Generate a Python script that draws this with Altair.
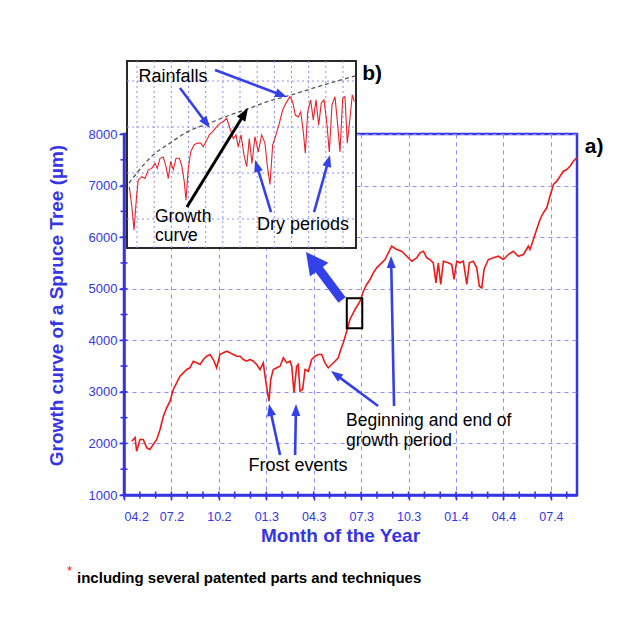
import json
import math
import altair as alt
import pandas as pd

# ---------------- data ----------------
# main series: month index (0 = 04.2) and growth in micrometres
months = [0.49, 0.70, 0.80, 1.01, 1.22, 1.44, 1.64, 1.85, 2.07, 2.28,
          2.49, 2.70, 2.91, 3.12, 3.33, 3.54, 3.75, 3.97, 4.17, 4.38,
          4.60, 4.81, 5.02, 5.23, 5.44, 5.65, 5.86, 6.07, 6.28, 6.50,
          6.70, 6.91, 7.13, 7.34, 7.55, 7.76, 7.97, 8.18, 8.39, 8.60,
          8.81, 8.92, 9.03, 9.17, 9.28, 9.44, 9.66, 9.87, 10.08, 10.29,
          10.50, 10.61, 10.75, 10.92, 11.02, 11.13, 11.30, 11.45, 11.66, 11.87,
          12.08, 12.29, 12.50, 12.71, 12.92, 13.14, 13.35, 13.55, 13.71, 13.87,
          14.09, 14.29, 14.61, 14.93, 15.14, 15.35, 15.56, 15.77, 15.98, 16.30,
          16.51, 16.72, 16.93, 17.25, 17.56, 17.88, 18.20, 18.51, 18.72, 18.94,
          19.15, 19.35, 19.56, 19.73, 19.88, 20.03, 20.20, 20.51, 20.73, 20.87,
          21.04, 21.25, 21.46, 21.68, 21.84, 22.09, 22.31, 22.47, 22.63, 22.77,
          23.04, 23.36, 23.67, 23.99, 24.31, 24.62, 24.94, 25.26, 25.57, 25.68,
          25.89, 26.10, 26.31, 26.52, 26.74, 26.94, 27.16, 27.37, 27.58, 27.79,
          28.00, 28.21, 28.42, 28.64]
growth = [2043, 2115, 1849, 2076, 2076, 1915, 1882, 1979, 2076, 2270,
          2528, 2691, 2819, 3046, 3176, 3304, 3369, 3433, 3466, 3594,
          3563, 3530, 3627, 3691, 3724, 3627, 3466, 3724, 3757, 3788,
          3757, 3724, 3691, 3691, 3627, 3594, 3627, 3594, 3530, 3433,
          3563, 3304, 3079, 2819, 3240, 3433, 3466, 3497, 3660, 3563,
          3594, 3497, 2987, 3497, 3530, 3013, 3046, 3433, 3400, 3627,
          3691, 3724, 3724, 3563, 3466, 3530, 3594, 3660, 3821, 3951,
          4180, 4403, 4597, 4758, 4952, 5082, 5179, 5308, 5405, 5502,
          5566, 5696, 5824, 5760, 5727, 5630, 5533, 5599, 5696, 5727,
          5599, 5566, 5502, 5115, 5502, 5082, 5533, 5502, 5469, 5179,
          5533, 5502, 5533, 5082, 5502, 5533, 5405, 5049, 5018, 5372,
          5566, 5599, 5630, 5566, 5663, 5727, 5630, 5663, 5824, 5760,
          5954, 6148, 6342, 6472, 6569, 6794, 7021, 7085, 7182, 7279,
          7311, 7375, 7472, 7538]

tick_months = [0, 3, 6, 9, 12, 15, 18, 21, 24, 27]
tick_labels = ["04.2", "07.2", "10.2", "01.3", "04.3", "07.3", "10.3", "01.4", "04.4", "07.4"]
y_ticks = [1000, 2000, 3000, 4000, 5000, 6000, 7000, 8000]
minor_months = list(range(0, 29))
minor_y = list(range(1000, 8001, 500))

# inset b): zoomed detail (days, micrometres)
in_days = [-2.24, -1.54, -0.87, -0.09, 0.38, 1.37, 2.33, 3.29, 4.28, 5.24,
           5.91, 6.70, 7.66, 8.45, 9.11, 9.81, 10.57, 11.36, 12.32, 13.02,
           13.77, 14.27, 14.94, 15.64, 16.60, 17.56, 18.55, 19.31, 20.09, 21.05,
           22.04, 23.21, 24.17, 25.13, 26.12, 28.04, 28.83, 29.50, 30.29, 31.16,
           31.95, 32.70, 33.49, 34.36, 35.32, 36.31, 37.27, 37.94, 38.73, 39.52,
           40.48, 41.44, 42.43, 43.39, 44.55, 45.34, 46.10, 46.97, 47.67, 48.43,
           49.01, 49.71, 50.58, 51.34, 52.13, 52.91, 53.67, 54.46, 55.24, 56.00,
           56.79, 57.66, 58.45, 59.11, 59.90, 60.57, 61.24, 62.03, 62.70, 63.28]
in_vals = [4470, 4430, 4376, 4452, 4485, 4492, 4488, 4507, 4510, 4521,
           4510, 4532, 4535, 4514, 4488, 4525, 4507, 4532, 4532, 4517,
           4481, 4441, 4510, 4546, 4561, 4565, 4565, 4557, 4568, 4583,
           4590, 4601, 4608, 4612, 4619, 4575, 4583, 4557, 4583, 4539,
           4514, 4575, 4521, 4579, 4546, 4583, 4565, 4517, 4475, 4561,
           4583, 4608, 4637, 4652, 4666, 4655, 4626, 4622, 4633, 4590,
           4543, 4633, 4659, 4615, 4659, 4604, 4652, 4659, 4612, 4546,
           4648, 4666, 4604, 4546, 4662, 4666, 4565, 4619, 4670, 4655]
gc_days = [-2.33, 4.66, 9.61, 14.56, 21.26, 27.08, 32.91, 38.73, 43.68, 53.29, 63.48]
gc_vals = [4478, 4539, 4565, 4589, 4609, 4626, 4641, 4657, 4667, 4689, 4711]
in_x_grid = [0, 5, 10, 15, 20, 25, 30, 35, 40, 45, 50, 55, 60]
in_y_grid = [4400, 4500, 4600, 4700]

# ---------------- layout / style ----------------
W, H = 453, 361
X_DOM = [0, 28.65]
Y_DOM = [1000, 8000]
XI_DOM = [-2.91, 63.78]
YI_DOM = [4337, 4743.5]
XI_RANGE = [3, 232]
YI_RANGE = [114, -73]

BLUE = "#3535e3"
ARROW = "#3441e8"
GRID = "#8e8ef0"
RED = "#ee1a1a"
FONT = "Liberation Sans"

xs = alt.Scale(domain=X_DOM, nice=False, zero=False)
ys = alt.Scale(domain=Y_DOM, nice=False, zero=False)
xis = alt.Scale(domain=XI_DOM, range=XI_RANGE, nice=False, zero=False)
yis = alt.Scale(domain=YI_DOM, range=YI_RANGE, nice=False, zero=False)

label_expr = json.dumps(tick_labels) + "[round(datum.value / 3)]"

main_line = alt.Chart(pd.DataFrame({"month": months, "growth": growth})).mark_line(
    color=RED, strokeWidth=1.6
).encode(
    x=alt.X("month:Q", scale=xs, axis=alt.Axis(
        values=tick_months, labelExpr=label_expr, title="Month of the Year",
        grid=True, gridDash=[4, 4], gridColor=GRID, gridWidth=1,
        tickSize=5, tickColor=BLUE, tickWidth=1.5,
        domainColor=BLUE, domainWidth=2.5,
        labelColor=BLUE, labelFont=FONT, labelFontSize=12.5, labelPadding=10,
        titleColor=BLUE, titleFont=FONT, titleFontSize=19, titleFontWeight="bold",
        titleX=216, titleY=31)),
    y=alt.Y("growth:Q", scale=ys, axis=alt.Axis(
        values=y_ticks, format="d", title="Growth curve of a Spruce Tree (µm)",
        grid=True, gridDash=[4, 4], gridColor=GRID, gridWidth=1,
        tickSize=5, tickColor=BLUE, tickWidth=1.5,
        domainColor=BLUE, domainWidth=2.5,
        labelColor=BLUE, labelFont=FONT, labelFontSize=13, labelPadding=2,
        titleColor=BLUE, titleFont=FONT, titleFontSize=19, titleFontWeight="bold",
        titleX=-58, titleY=171)),
)

# minor tick crosses on both axes (short rules centred on the axis lines)
ticks_x = alt.Chart(pd.DataFrame({"m": minor_months})).mark_rule(
    color=BLUE, strokeWidth=1.6
).encode(x=alt.X("m:Q", scale=xs, axis=None),
         y=alt.value(H - 3.5), y2=alt.value(H + 3.5))

ticks_y = alt.Chart(pd.DataFrame({"v": minor_y})).mark_rule(
    color=BLUE, strokeWidth=1.6
).encode(y=alt.Y("v:Q", scale=ys, axis=None),
         x=alt.value(-3.5), x2=alt.value(3.5))

# inset frame and contents
frame = alt.Chart(pd.DataFrame({"x0": [XI_DOM[0]], "x1": [XI_DOM[1]],
                                "y0": [YI_DOM[0]], "y1": [YI_DOM[1]]})).mark_rect(
    fill="white", stroke="#2a2a2a", strokeWidth=2
).encode(x=alt.X("x0:Q", scale=xis, axis=None), x2="x1:Q",
         y=alt.Y("y0:Q", scale=yis, axis=None), y2="y1:Q")

in_vgrid = alt.Chart(pd.DataFrame({"d": in_x_grid, "y0": [YI_DOM[0]] * len(in_x_grid),
                                   "y1": [YI_DOM[1]] * len(in_x_grid)})).mark_rule(
    color=GRID, strokeDash=[2, 3], strokeWidth=1
).encode(x=alt.X("d:Q", scale=xis, axis=None),
         y=alt.Y("y0:Q", scale=yis, axis=None), y2="y1:Q")

in_hgrid = alt.Chart(pd.DataFrame({"u": in_y_grid, "x0": [XI_DOM[0]] * len(in_y_grid),
                                   "x1": [XI_DOM[1]] * len(in_y_grid)})).mark_rule(
    color=GRID, strokeDash=[2, 3], strokeWidth=1
).encode(y=alt.Y("u:Q", scale=yis, axis=None),
         x=alt.X("x0:Q", scale=xis, axis=None), x2="x1:Q")

gc_line = alt.Chart(pd.DataFrame({"d": gc_days, "u": gc_vals})).mark_line(
    color="#555555", strokeDash=[4, 3], strokeWidth=1.3, interpolate="monotone"
).encode(x=alt.X("d:Q", scale=xis, axis=None), y=alt.Y("u:Q", scale=yis, axis=None))

in_line = alt.Chart(pd.DataFrame({"d": in_days, "u": in_vals})).mark_line(
    color="#e8232b", strokeWidth=1.1
).encode(x=alt.X("d:Q", scale=xis, axis=None), y=alt.Y("u:Q", scale=yis, axis=None))

# ---------------- annotations (in main-axis units) ----------------
box = alt.Chart(pd.DataFrame({"m0": [14.09], "m1": [15.07], "v0": [4232], "v1": [4814]})).mark_rect(
    fillOpacity=0, stroke="black", strokeWidth=2
).encode(x=alt.X("m0:Q", scale=xs, axis=None), x2="m1:Q",
         y=alt.Y("v0:Q", scale=ys, axis=None), y2="v1:Q")

PXM = W / (X_DOM[1] - X_DOM[0])
PYV = H / (Y_DOM[1] - Y_DOM[0])


def arrow_frames(arrows, back):
    shafts, heads = [], []
    for (m0, v0, m1, v1) in arrows:
        dx = (m1 - m0) * PXM
        dy = -(v1 - v0) * PYV
        L = math.hypot(dx, dy)
        ux, uy = dx / L, dy / L
        ang = math.degrees(math.atan2(dx, -dy)) % 360
        hm = m1 - ux * back / PXM
        hv = v1 + uy * back / PYV
        shafts.append({"m0": m0, "v0": v0, "m1": hm, "v1": hv})
        heads.append({"m": hm, "v": hv, "ang": ang})
    return pd.DataFrame(shafts), pd.DataFrame(heads)


def arrow_layers(arrows, color, width, head_r, path):
    sdf, hdf = arrow_frames(arrows, head_r)
    shaft = alt.Chart(sdf).mark_rule(color=color, strokeWidth=width).encode(
        x=alt.X("m0:Q", scale=xs, axis=None), x2="m1:Q",
        y=alt.Y("v0:Q", scale=ys, axis=None), y2="v1:Q")
    head = alt.Chart(hdf).mark_point(shape=path, filled=True, color=color, opacity=1,
                                     size=(2 * head_r) ** 2, strokeWidth=0).encode(
        x=alt.X("m:Q", scale=xs, axis=None), y=alt.Y("v:Q", scale=ys, axis=None),
        angle=alt.Angle("ang:Q", scale=None))
    return [shaft, head]


blue_arrows = [
    (3.54, 8892, 5.44, 8116),    # Rainfalls 1
    (5.76, 9241, 10.31, 8717),   # Rainfalls 2
    (9.30, 6487, 8.29, 7496),    # Dry periods 1
    (12.02, 6487, 13.03, 7593),  # Dry periods 2
    (9.87, 1776, 9.17, 2764),    # Frost 1
    (10.82, 1776, 10.88, 2764),  # Frost 2
    (16.07, 2726, 13.09, 3404),  # Beginning
    (17.08, 2726, 16.89, 5634),  # End
]
black_arrows = [(3.98, 6584, 7.84, 8504)]
big_arrows = [(13.79, 4781, 11.51, 5712)]

HEAD = "M0,-1L0.75,1L-0.75,1Z"
BIGHEAD = "M0,-1L1.05,1L-1.05,1Z"

arrows = (arrow_layers(blue_arrows, ARROW, 2.6, 6, HEAD)
          + arrow_layers(black_arrows, "black", 3, 6.5, HEAD)
          + arrow_layers(big_arrows, ARROW, 9, 11, BIGHEAD))


def text_layer(rows, size, align="center", weight="normal", color="black"):
    df = pd.DataFrame(rows, columns=["t", "m", "v"])
    return alt.Chart(df).mark_text(font=FONT, fontSize=size, align=align, baseline="middle",
                                   fontWeight=weight, color=color).encode(
        x=alt.X("m:Q", scale=xs, axis=None), y=alt.Y("v:Q", scale=ys, axis=None), text="t:N")


texts = [
    text_layer([("Rainfalls", 3.10, 9105), ("Dry periods", 11.32, 6235),
                ("Frost events", 11.01, 1562)], 18),
    text_layer([("Growth", 1.96, 6400), ("curve", 1.96, 6020),
                ("Beginning and end of", 14.04, 2435), ("growth period", 14.04, 2047)], 17.5, align="left"),
    text_layer([("a)", 29.73, 7748), ("b)", 15.69, 9163)], 21, weight="bold"),
    text_layer([("including several patented parts and techniques", -2.97, -600)], 15,
               align="left", weight="bold"),
    text_layer([("*", -3.45, -470)], 13, color=RED),
]

chart = alt.layer(
    main_line, ticks_x, ticks_y,
    frame, in_vgrid, in_hgrid, gc_line, in_line,
    box, *arrows, *texts
).resolve_scale(x="independent", y="independent").properties(
    width=W, height=H,
    autosize=alt.AutoSizeParams(type="none"),
    padding={"left": 116, "top": 126, "right": 50, "bottom": 120},
    background="white",
).configure_view(stroke=BLUE, strokeWidth=2.5)

chart.save("out.html", embed_options={"renderer": "svg", "actions": False})
